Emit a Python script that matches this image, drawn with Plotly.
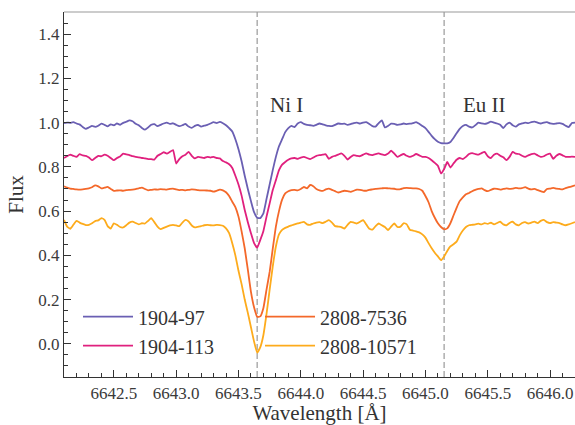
import numpy as np
import plotly.graph_objects as go

# Sampling grid of the spectra (Angstrom)
wl_start = 6642.10
wl_step = 0.025
n_pix = 165
wavelength = np.round(wl_start + wl_step * np.arange(n_pix), 3)

# Normalised flux of each star (with vertical offsets already applied)
flux_1904_97 = [
    0.998, 1.000, 0.999, 1.002, 0.996, 0.992, 0.980, 0.972, 0.978, 0.985,
    0.981, 0.986, 0.995, 0.990, 0.983, 0.992, 0.988, 0.996, 0.990, 0.999,
    1.004, 1.010, 1.006, 0.995, 0.988, 0.976, 0.968, 0.978, 0.990, 0.993,
    0.984, 0.990, 0.996, 1.000, 0.994, 0.997, 0.990, 0.984, 0.988, 0.994,
    0.982, 0.976, 0.985, 0.990, 0.982, 0.986, 0.990, 0.996, 1.002, 0.998,
    1.003, 0.997, 0.988, 0.975, 0.960, 0.925, 0.880, 0.825, 0.760, 0.700,
    0.645, 0.595, 0.570, 0.568, 0.590, 0.655, 0.720, 0.785, 0.845, 0.893,
    0.925, 0.957, 0.975, 0.985, 0.980, 0.996, 1.002, 0.994, 0.990, 0.988,
    0.985, 0.990, 0.996, 0.992, 0.988, 0.985, 0.984, 0.990, 0.996, 0.994,
    0.995, 0.990, 0.993, 0.998, 1.000, 0.996, 1.000, 1.002, 0.994, 0.984,
    0.982, 0.998, 1.010, 0.978, 0.985, 0.995, 0.994, 0.990, 0.992, 0.996,
    0.993, 0.995, 0.998, 1.002, 0.995, 0.985, 0.975, 0.958, 0.940, 0.925,
    0.913, 0.907, 0.906, 0.906, 0.912, 0.930, 0.952, 0.972, 0.985, 0.990,
    0.982, 0.978, 0.988, 1.000, 0.996, 0.994, 0.998, 1.004, 1.000, 0.996,
    0.990, 0.975, 0.992, 1.000, 0.988, 0.982, 0.992, 0.996, 1.000, 0.998,
    1.002, 1.004, 1.000, 0.996, 1.000, 1.002, 0.996, 0.994, 0.996, 0.998,
    0.994, 0.986, 0.980, 0.998, 1.000,
]
flux_1904_113 = [
    0.840, 0.848, 0.855, 0.850, 0.845, 0.857, 0.852, 0.850, 0.842, 0.830,
    0.840, 0.850, 0.848, 0.855, 0.850, 0.840, 0.830, 0.840, 0.847, 0.860,
    0.856, 0.853, 0.848, 0.845, 0.843, 0.840, 0.838, 0.835, 0.835, 0.833,
    0.850, 0.858, 0.866, 0.860, 0.868, 0.876, 0.815, 0.835, 0.848, 0.855,
    0.868, 0.850, 0.838, 0.845, 0.843, 0.840, 0.845, 0.842, 0.845, 0.840,
    0.838, 0.826, 0.820, 0.812, 0.795, 0.760, 0.720, 0.670, 0.605, 0.550,
    0.500, 0.455, 0.435, 0.470, 0.510, 0.575, 0.635, 0.695, 0.740, 0.785,
    0.810, 0.822, 0.832, 0.838, 0.840, 0.836, 0.842, 0.845, 0.840, 0.835,
    0.842, 0.850, 0.853, 0.855, 0.857, 0.836, 0.845, 0.850, 0.855, 0.861,
    0.850, 0.833, 0.845, 0.853, 0.850, 0.848, 0.855, 0.861, 0.855, 0.853,
    0.858, 0.861, 0.856, 0.853, 0.860, 0.873, 0.860, 0.845, 0.852, 0.858,
    0.850, 0.845, 0.850, 0.858, 0.852, 0.845, 0.845, 0.840, 0.830, 0.818,
    0.805, 0.770, 0.790, 0.822, 0.797, 0.815, 0.832, 0.840, 0.835, 0.845,
    0.858, 0.862, 0.858, 0.855, 0.862, 0.868, 0.848, 0.840, 0.855, 0.860,
    0.850, 0.843, 0.830, 0.845, 0.868, 0.860, 0.858, 0.850, 0.845, 0.852,
    0.858, 0.860, 0.852, 0.845, 0.848, 0.856, 0.860, 0.836, 0.850, 0.858,
    0.852, 0.845, 0.845, 0.846, 0.845,
]
flux_2808_7536 = [
    0.712, 0.706, 0.702, 0.700, 0.698, 0.697, 0.698, 0.700, 0.703, 0.708,
    0.716, 0.712, 0.703, 0.706, 0.709, 0.700, 0.691, 0.693, 0.694, 0.692,
    0.695, 0.696, 0.697, 0.699, 0.703, 0.706, 0.700, 0.694, 0.696, 0.698,
    0.697, 0.699, 0.698, 0.697, 0.700, 0.702, 0.698, 0.695, 0.696, 0.694,
    0.696, 0.698, 0.697, 0.695, 0.694, 0.694, 0.693, 0.692, 0.688, 0.692,
    0.697, 0.694, 0.685, 0.668, 0.642, 0.618, 0.575, 0.508, 0.432, 0.335,
    0.235, 0.165, 0.122, 0.124, 0.162, 0.245, 0.325, 0.430, 0.530, 0.600,
    0.652, 0.680, 0.690, 0.695, 0.696, 0.694, 0.700, 0.709, 0.703, 0.718,
    0.712, 0.700, 0.694, 0.691, 0.698, 0.702, 0.696, 0.690, 0.684, 0.688,
    0.692, 0.690, 0.687, 0.692, 0.697, 0.696, 0.693, 0.692, 0.696, 0.698,
    0.700, 0.702, 0.703, 0.704, 0.703, 0.702, 0.701, 0.698, 0.699, 0.704,
    0.705, 0.704, 0.703, 0.703, 0.700, 0.692, 0.668, 0.640, 0.600, 0.570,
    0.545, 0.528, 0.518, 0.522, 0.545, 0.580, 0.615, 0.645, 0.662, 0.676,
    0.682, 0.690, 0.696, 0.700, 0.703, 0.695, 0.690, 0.696, 0.701, 0.700,
    0.697, 0.700, 0.703, 0.700, 0.702, 0.705, 0.703, 0.704, 0.708, 0.702,
    0.698, 0.700, 0.695, 0.690, 0.686, 0.700, 0.702, 0.705, 0.702, 0.700,
    0.698, 0.704, 0.708, 0.712, 0.716,
]
flux_2808_10571 = [
    0.560, 0.530, 0.520, 0.538, 0.556, 0.548, 0.542, 0.537, 0.538, 0.545,
    0.555, 0.558, 0.568, 0.560, 0.532, 0.521, 0.545, 0.538, 0.528, 0.526,
    0.536, 0.548, 0.552, 0.546, 0.540, 0.545, 0.544, 0.556, 0.568, 0.550,
    0.530, 0.518, 0.524, 0.530, 0.535, 0.538, 0.535, 0.532, 0.548, 0.560,
    0.553, 0.535, 0.526, 0.529, 0.532, 0.536, 0.538, 0.536, 0.535, 0.538,
    0.537, 0.534, 0.522, 0.500, 0.455, 0.400, 0.330, 0.270, 0.200, 0.140,
    0.075, 0.010, -0.040, -0.015, 0.040, 0.135, 0.245, 0.350, 0.440, 0.495,
    0.515, 0.524, 0.530, 0.535, 0.540, 0.544, 0.548, 0.551, 0.540, 0.538,
    0.544, 0.548, 0.550, 0.546, 0.552, 0.559, 0.548, 0.532, 0.530, 0.528,
    0.521, 0.538, 0.551, 0.548, 0.544, 0.552, 0.559, 0.540, 0.520, 0.516,
    0.532, 0.544, 0.536, 0.528, 0.514, 0.530, 0.544, 0.528, 0.530, 0.545,
    0.540, 0.516, 0.512, 0.508, 0.504, 0.495, 0.480, 0.455, 0.432, 0.412,
    0.395, 0.378, 0.395, 0.420, 0.440, 0.450, 0.462, 0.490, 0.512, 0.528,
    0.536, 0.538, 0.540, 0.543, 0.540, 0.546, 0.542, 0.548, 0.540, 0.546,
    0.552, 0.540, 0.536, 0.546, 0.552, 0.540, 0.536, 0.546, 0.550, 0.544,
    0.548, 0.552, 0.546, 0.556, 0.560, 0.550, 0.546, 0.550, 0.548, 0.546,
    0.540, 0.536, 0.540, 0.545, 0.550,
]

star_names = ["1904-97", "1904-113", "2808-7536", "2808-10571"]
star_flux = [flux_1904_97, flux_1904_113, flux_2808_7536, flux_2808_10571]
star_colors = ["#6a5fb3", "#e0207e", "#f4682a", "#fdab1c"]
star_legend = ["legend", "legend", "legend2", "legend2"]

# Rest wavelengths of the marked transitions
line_names = ["Ni I", "Eu II"]
line_centers = [6643.65, 6645.15]
line_label_x = [6643.735, 6645.285]
line_label_y = 1.08

for f in star_flux:
    if len(f) != n_pix:
        raise ValueError("flux array length mismatch")

serif = "Liberation Serif"
ink = "#333333"

fig = go.Figure()
for name, flux, color, leg in zip(star_names, star_flux, star_colors, star_legend):
    fig.add_trace(go.Scatter(
        x=wavelength, y=flux, mode="lines", name=name, legend=leg,
        line=dict(color=color, width=1.8, shape="spline", smoothing=0.4),
    ))

for center in line_centers:
    fig.add_shape(type="line", xref="x", yref="paper", x0=center, x1=center,
                  y0=0, y1=1, layer="below",
                  line=dict(color="#a8a8a8", width=1.4, dash="6px,3px"))

for name, lx in zip(line_names, line_label_x):
    fig.add_annotation(x=lx, y=line_label_y, text=name, showarrow=False,
                       xanchor="left", yanchor="middle",
                       font=dict(family=serif, size=21, color=ink))

# top frame line
fig.add_shape(type="line", xref="paper", yref="paper", x0=0, x1=1, y0=1, y1=1,
              line=dict(color="#9a9a9a", width=1.2))

axis_common = dict(
    showline=True, linecolor=ink, linewidth=1.2, mirror=False,
    ticks="inside", ticklen=7, tickwidth=1.1, tickcolor=ink,
    showgrid=False, zeroline=False,
    tickfont=dict(family=serif, size=17, color="#3a3a3a"),
)

fig.update_layout(
    width=575, height=425,
    margin=dict(l=64, r=0, t=12, b=48),
    paper_bgcolor="white", plot_bgcolor="white",
    font=dict(family=serif, color=ink),
    xaxis=dict(
        range=[6642.1, 6646.2], dtick=0.5, tick0=6642.5, tickformat=".1f",
        minor=dict(ticks="inside", dtick=0.1, tick0=6642.5, ticklen=3.5,
                   tickwidth=1.0, tickcolor=ink),
        title=dict(text="Wavelength [Å]", font=dict(family=serif, size=21, color=ink),
                   standoff=6),
        **axis_common,
    ),
    yaxis=dict(
        range=[-0.15, 1.5], dtick=0.2, tick0=0.0, tickformat=".1f",
        minor=dict(ticks="inside", dtick=0.05, tick0=0.0, ticklen=3.5,
                   tickwidth=1.0, tickcolor=ink),
        title=dict(text="Flux", font=dict(family=serif, size=21, color=ink),
                   standoff=8),
        **axis_common,
    ),
    legend=dict(x=0.0274, y=0.2186, xanchor="left", yanchor="top",
                bgcolor="rgba(0,0,0,0)", font=dict(family=serif, size=20, color=ink),
                itemwidth=50, tracegroupgap=0),
    legend2=dict(x=0.3836, y=0.2186, xanchor="left", yanchor="top",
                 bgcolor="rgba(0,0,0,0)", font=dict(family=serif, size=20, color=ink),
                 itemwidth=50, tracegroupgap=0),
)

fig.write_html("out.html")
